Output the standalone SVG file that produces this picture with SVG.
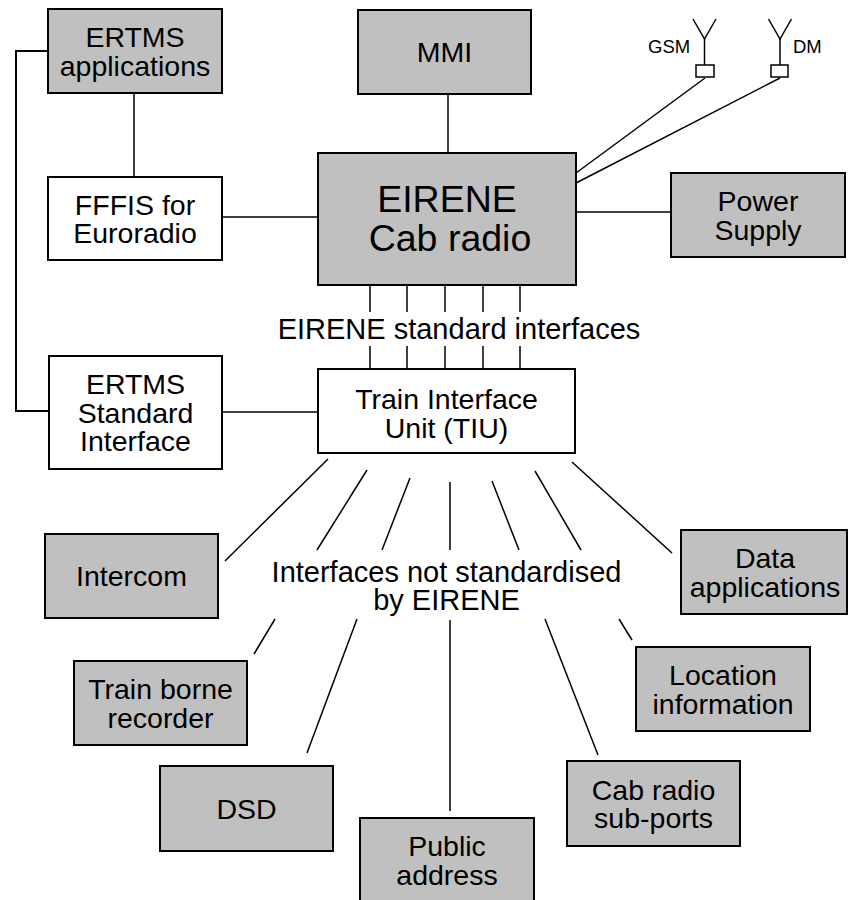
<svg xmlns="http://www.w3.org/2000/svg" width="848" height="900" viewBox="0 0 848 900">
<style>
.box{fill:#c0c0c0;stroke:#000;stroke-width:2}
.wbox{fill:#fff;stroke:#000;stroke-width:2}
.t{font-family:"Liberation Sans",Arial,sans-serif;font-size:28.5px;fill:#000;text-anchor:middle}
.big{font-size:37.5px}
.lbl{font-size:29px}
.small{font-family:"Liberation Sans",Arial,sans-serif;font-size:18.5px;fill:#000}
.c{stroke:#000;stroke-width:1.5;fill:none}
.ct{stroke:#000;stroke-width:2;fill:none}
</style>
<rect width="848" height="900" fill="#fff"/>
<g id="connectors">
<polyline class="ct" points="48,51 16,51 16,411 49,411"/>
<line class="c" x1="134" y1="93" x2="134" y2="177"/>
<line class="c" x1="222" y1="217" x2="318" y2="217"/>
<line class="c" x1="448" y1="94" x2="448" y2="153"/>
<line class="c" x1="576" y1="212" x2="671" y2="212"/>
<line class="c" x1="705" y1="78" x2="576" y2="173"/>
<line class="c" x1="780" y1="78" x2="576" y2="183"/>
<line class="c" x1="370" y1="285" x2="370" y2="312"/>
<line class="c" x1="407" y1="285" x2="407" y2="312"/>
<line class="c" x1="445" y1="285" x2="445" y2="312"/>
<line class="c" x1="483" y1="285" x2="483" y2="312"/>
<line class="c" x1="520" y1="285" x2="520" y2="312"/>
<line class="c" x1="370" y1="346" x2="370" y2="369"/>
<line class="c" x1="407" y1="346" x2="407" y2="369"/>
<line class="c" x1="445" y1="346" x2="445" y2="369"/>
<line class="c" x1="483" y1="346" x2="483" y2="369"/>
<line class="c" x1="520" y1="346" x2="520" y2="369"/>
<line class="c" x1="222" y1="412" x2="318" y2="412"/>
<line class="c" x1="328" y1="459" x2="225" y2="561"/>
<line class="c" x1="367" y1="470" x2="317" y2="550"/>
<line class="c" x1="410" y1="478" x2="382" y2="550"/>
<line class="c" x1="450" y1="482" x2="450" y2="550"/>
<line class="c" x1="492" y1="481" x2="519" y2="550"/>
<line class="c" x1="535" y1="471" x2="581" y2="550"/>
<line class="c" x1="572" y1="462" x2="672" y2="553"/>
<line class="c" x1="275" y1="619" x2="254" y2="654"/>
<line class="c" x1="357" y1="619" x2="307" y2="753"/>
<line class="c" x1="450" y1="620" x2="450" y2="811"/>
<line class="c" x1="545" y1="619" x2="598" y2="755"/>
<line class="c" x1="619" y1="619" x2="632" y2="640"/>
</g>
<g id="antenna-gsm">
<polyline class="c" points="693,19 704.5,39 716,19"/>
<line class="c" x1="704.5" y1="39" x2="704.5" y2="65"/>
<rect x="696" y="65" width="18" height="12" fill="#fff" stroke="#000" stroke-width="1.5"/>
<text class="small" x="648" y="53">GSM</text>
</g>
<g id="antenna-dm">
<polyline class="c" points="768.5,19 780,39 791.5,19"/>
<line class="c" x1="780" y1="39" x2="780" y2="65"/>
<rect x="771" y="65" width="17" height="12" fill="#fff" stroke="#000" stroke-width="1.5"/>
<text class="small" x="793" y="53">DM</text>
</g>
<g id="ertms-applications">
<rect class="box" x="48" y="9" width="174" height="84"/>
<text class="t" x="135" y="47">ERTMS</text>
<text class="t" x="135" y="75.5">applications</text>
</g>
<g id="mmi">
<rect class="box" x="358" y="10" width="173" height="84"/>
<text class="t" x="444.5" y="62">MMI</text>
</g>
<g id="fffis">
<rect class="wbox" x="48" y="177" width="174" height="83"/>
<text class="t" x="135" y="214.5">FFFIS for</text>
<text class="t" x="135" y="243">Euroradio</text>
</g>
<g id="eirene-cab-radio">
<rect class="box" x="318" y="153" width="258" height="132"/>
<text class="t big" x="447" y="212">EIRENE</text>
<text class="t big" x="450" y="251">Cab radio</text>
</g>
<g id="power-supply">
<rect class="box" x="671" y="173" width="174" height="84"/>
<text class="t" x="758" y="211">Power</text>
<text class="t" x="758" y="239.5">Supply</text>
</g>
<g id="eirene-standard-label">
<text class="t lbl" x="459" y="339">EIRENE standard interfaces</text>
</g>
<g id="ertms-standard-interface">
<rect class="wbox" x="49" y="356" width="173" height="113"/>
<text class="t" x="135.5" y="394">ERTMS</text>
<text class="t" x="135.5" y="422.5">Standard</text>
<text class="t" x="135.5" y="451">Interface</text>
</g>
<g id="tiu">
<rect class="wbox" x="318" y="369" width="257" height="84"/>
<text class="t" x="446.5" y="409">Train Interface</text>
<text class="t" x="446.5" y="437.5">Unit (TIU)</text>
</g>
<g id="not-standardised-label">
<text class="t lbl" x="446.5" y="582">Interfaces not standardised</text>
<text class="t lbl" x="446.5" y="610">by EIRENE</text>
</g>
<g id="intercom">
<rect class="box" x="45" y="534" width="173" height="84"/>
<text class="t" x="131.5" y="586">Intercom</text>
</g>
<g id="data-applications">
<rect class="box" x="681" y="530" width="166" height="84"/>
<text class="t" x="765" y="568">Data</text>
<text class="t" x="765" y="596.5">applications</text>
</g>
<g id="train-borne-recorder">
<rect class="box" x="74" y="661" width="173" height="84"/>
<text class="t" x="160.5" y="699">Train borne</text>
<text class="t" x="160.5" y="727.5">recorder</text>
</g>
<g id="location-information">
<rect class="box" x="636" y="647" width="174" height="84"/>
<text class="t" x="723" y="685">Location</text>
<text class="t" x="723" y="713.5">information</text>
</g>
<g id="dsd">
<rect class="box" x="160" y="766" width="173" height="85"/>
<text class="t" x="246.5" y="818.5">DSD</text>
</g>
<g id="cab-radio-sub-ports">
<rect class="box" x="567" y="761" width="173" height="85"/>
<text class="t" x="653.5" y="799.5">Cab radio</text>
<text class="t" x="653.5" y="828">sub-ports</text>
</g>
<g id="public-address">
<rect class="box" x="360" y="818" width="174" height="84"/>
<text class="t" x="447" y="856">Public</text>
<text class="t" x="447" y="884.5">address</text>
</g>
</svg>
